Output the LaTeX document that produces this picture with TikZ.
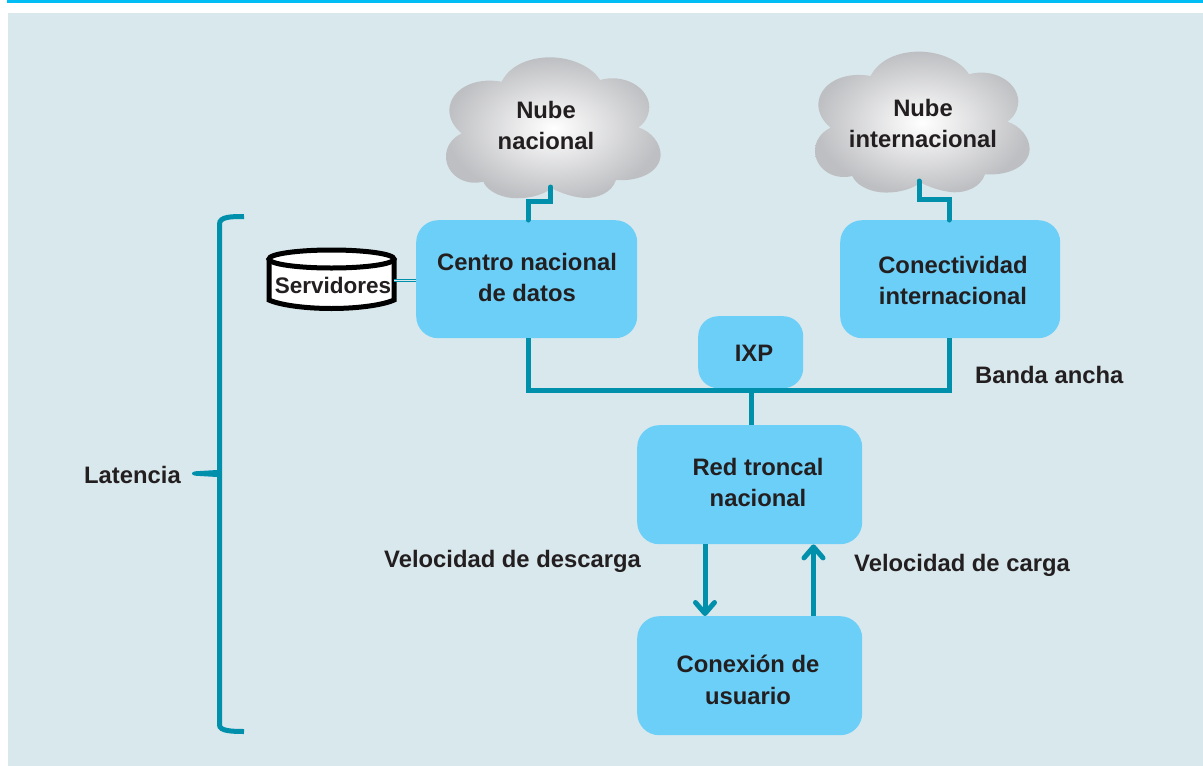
\documentclass[tikz,border=0pt]{standalone}
\usepackage{fontspec}
\setmainfont{Liberation Sans}
\usetikzlibrary{arrows.meta,calc}
\definecolor{panel}{RGB}{217,232,237}
\definecolor{band}{RGB}{0,190,243}
\definecolor{boxblue}{RGB}{108,207,247}
\definecolor{teal}{RGB}{0,144,171}
\definecolor{ink}{RGB}{35,31,32}
\definecolor{cloudgray}{RGB}{190,191,194}
\newcommand{\cloudshape}{
  (215,125) .. controls (240,75) and (300,52) .. (360,52)
  .. controls (430,52) and (490,85) .. (510,120)
  .. controls (580,100) and (655,140) .. (658,200)
  .. controls (658,225) and (645,250) .. (625,262)
  .. controls (665,275) and (692,310) .. (692,345)
  .. controls (690,395) and (630,425) .. (558,420)
  .. controls (545,460) and (500,475) .. (465,474)
  .. controls (430,472) and (395,460) .. (365,445)
  .. controls (335,468) and (285,478) .. (245,474)
  .. controls (205,470) and (170,450) .. (160,425)
  .. controls (100,440) and (48,400) .. (48,350)
  .. controls (48,320) and (65,295) .. (95,280)
  .. controls (70,260) and (58,235) .. (58,210)
  .. controls (60,150) and (130,110) .. (215,125) -- cycle}
\tikzset{
  x=1pt,y=-1pt,
  boxnode/.style={draw=none,fill=boxblue,rounded corners=22pt,inner sep=0pt,anchor=north west},
  txt/.style={font=\fontsize{23.8}{23.8}\selectfont\bfseries,text=ink,inner sep=0pt,align=center},
  wire/.style={draw=teal,line width=5pt},
  flow/.style={draw=teal,line width=5pt,-{Straight Barb[round,length=11pt,width=19pt,line width=5pt]}},
  cloudfill/.style={shade,inner color=white,outer color=cloudgray,shading=radial}
}
\begin{document}
\begin{tikzpicture}
\useasboundingbox (0,0) rectangle (1203,766);
\fill[white] (0,0) rectangle (1203,766);
\fill[panel] (8,13) rectangle (1203,766);
\fill[band] (7,0) rectangle (1203,3);

% clouds
\begin{scope}[shift={(430,40)},x=0.3333pt,y=-0.3333pt]
  \path[cloudfill] \cloudshape;
\end{scope}
\begin{scope}[shift={(799,34.3)},x=0.3333pt,y=-0.3333pt]
  \path[cloudfill] \cloudshape;
\end{scope}

% boxes
\node[boxnode,minimum width=221pt,minimum height=118pt] (centro) at (416,220) {};
\node[boxnode,minimum width=220pt,minimum height=118pt] (conect) at (840,220) {};
\node[boxnode,minimum width=105pt,minimum height=72pt,rounded corners=20pt] (ixp) at (698,316) {};
\node[boxnode,minimum width=225pt,minimum height=119pt] (red) at (637,425) {};
\node[boxnode,minimum width=225pt,minimum height=119pt] (usuario) at (637,616) {};

% helper coordinates for the connector ends
\coordinate (nubeNac) at (550.7,187);
\coordinate (nubeInt) at (919,181);
\coordinate (xA) at (528,390);
\coordinate (xB) at (949,390);
\coordinate (xC) at (751,390);
\coordinate (xD) at (705,580);
\coordinate (xE) at (813.5,580);

% connectors
\draw[wire,line cap=round] (nubeNac) -- ++(0,14.7) -| (xA |- centro.north);
\draw[wire,line cap=round] (nubeInt) -- ++(0,18) -| (xB |- conect.north);
\draw[wire] (xA |- centro.south) |- (xB) -- (xB |- conect.south);
\draw[wire] (xC |- ixp.south) -- (xC |- red.north);
\draw[flow] (xD |- red.south) -- (xD |- usuario.north);
\draw[flow] (xE |- usuario.north) -- (xE |- red.south);

% servers cylinder
\coordinate (cylR) at (394,259);
\path[fill=white,draw=black,line width=5pt]
  (269,259) -- (269,300) .. controls (280,305) and (305,308.5) .. (331.5,308.5)
  .. controls (358,308.5) and (383,305) .. (394,300) -- (394,259);
\path[fill=white,draw=black,line width=5pt] (331.5,259) ellipse [x radius=62.5pt,y radius=9pt];
\node[font=\fontsize{22.5}{23}\selectfont\bfseries,text=ink,inner sep=0pt] (serv) at (333,285) {Servidores};
\draw[draw=teal,line width=1.2pt,double=panel,double distance=1.2pt] (cylR |- 0,280.5) -- (centro.west |- 0,280.5);

% latency bracket
\draw[draw=teal,line width=5pt] (244,216.5) .. controls (232,216.5) and (219.5,216.5) .. (219.5,224) -- (219.5,725) .. controls (219.5,731) and (232,731.5) .. (244,731.5);
\coordinate (brk) at (192,473.5);
\fill[teal] (brk) .. controls (192,471.5) and (196,471) .. (200,471) -- (217,470) -- (222,473.5) -- (217,477) -- (200,476) .. controls (196,476) and (192,475.5) .. (brk) -- cycle;

% labels
\node[txt] (t1) at (546,125.5) {Nube\\[7.5pt]nacional};
\node[txt] (t2) at (923,123.5) {Nube\\[7.5pt]internacional};
\node[txt] (t3) at (527,277.5) {Centro nacional\\[7.5pt]de datos};
\node[txt] (t4) at (953,280.5) {Conectividad\\[7.5pt]internacional};
\node[txt] (t5) at (754,353) {IXP};
\node[txt] (t6) at (758,482.5) {Red troncal\\[7.5pt]nacional};
\node[txt] (t7) at (748,680) {Conexión de\\[7.5pt]usuario};
\node[txt,anchor=west] (t8) at (975,375) {Banda ancha};
\node[txt,anchor=west] (t9) at (384,561.5) {Velocidad de descarga};
\node[txt,anchor=west] (t10) at (854,565.5) {Velocidad de carga};
\node[txt,anchor=west] (t11) at (84,475) {Latencia};
\end{tikzpicture}
\end{document}
